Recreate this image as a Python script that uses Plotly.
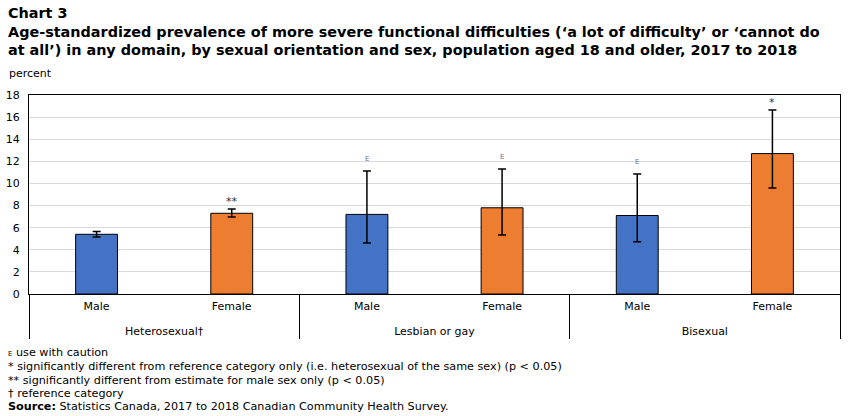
import plotly.graph_objects as go

orientations = ["Heterosexual†", "Heterosexual†", "Lesbian or gay", "Lesbian or gay", "Bisexual", "Bisexual"]
sexes = ["Male", "Female", "Male", "Female", "Male", "Female"]
values = [5.4, 7.3, 7.2, 7.8, 7.1, 12.7]
upper = [5.66, 7.68, 11.12, 11.3, 10.85, 16.64]
lower = [5.15, 6.96, 4.61, 5.33, 4.73, 9.58]
flags = ["", "**", "E", "E", "E", "*"]
colors = ["#4472C4", "#ED7D31", "#4472C4", "#ED7D31", "#4472C4", "#ED7D31"]
y_ticks = [0, 2, 4, 6, 8, 10, 12, 14, 16, 18]

FONT = "DejaVu Sans"
H, MT, MB = 416, 95, 122
PH = H - MT - MB


def py(pix):
    return (H - MB - pix) / PH


# a small spacer line under each sex label pushes the group row down
sex_labels = [s + "<br><span style='font-size:6px'> </span>" for s in sexes]

fig = go.Figure()
fig.add_trace(go.Bar(
    x=[orientations, sex_labels],
    y=values,
    marker=dict(color=colors, line=dict(color="black", width=1)),
    width=0.31,
    error_y=dict(
        type="data", symmetric=False,
        array=[u - v for u, v in zip(upper, values)],
        arrayminus=[v - l for v, l in zip(values, lower)],
        color="black", thickness=1.5, width=4,
    ),
    hoverinfo="skip",
))

annotations = []
for i, (f, u) in enumerate(zip(flags, upper)):
    if not f:
        continue
    if f == "E":
        annotations.append(dict(x=i, y=u, xref="x", yref="y", text=f, showarrow=False,
                                yshift=12, font=dict(family=FONT, size=7, color="#6b7390")))
    else:
        annotations.append(dict(x=i, y=u, xref="x", yref="y", text=f, showarrow=False,
                                yshift=8, font=dict(family=FONT, size=11, color="#333333")))

annotations.append(dict(x=0, y=1, xref="paper", yref="paper", xshift=-22, yshift=13, text="percent",
                        showarrow=False, xanchor="left", yanchor="bottom",
                        font=dict(family=FONT, size=11, color="black")))

title_lines = [
    "<b>Chart 3</b>",
    "<b>Age-standardized prevalence of more severe functional difficulties (‘a lot of difficulty’ or ‘cannot do</b>",
    "<b>at all’) in any domain, by sexual orientation and sex, population aged 18 and older, 2017 to 2018</b>",
]
title_y = [13, 32, 50]
for t, yy in zip(title_lines, title_y):
    annotations.append(dict(x=0, y=py(yy), xref="paper", yref="paper", xshift=-23, text=t,
                            showarrow=False, xanchor="left", yanchor="middle",
                            font=dict(family=FONT, size=14.4, color="black")))

notes = [
    "<span style='font-size:7px'>E</span> use with caution",
    "* significantly different from reference category only (i.e. heterosexual of the same sex) (p < 0.05)",
    "** significantly different from estimate for male sex only (p < 0.05)",
    "† reference category",
    "<b>Source:</b> Statistics Canada, 2017 to 2018 Canadian Community Health Survey.",
]
note_y = [352, 366, 380, 393, 406]
for t, yy in zip(notes, note_y):
    annotations.append(dict(x=0, y=py(yy), xref="paper", yref="paper", xshift=-23, text=t,
                            showarrow=False, xanchor="left", yanchor="middle",
                            font=dict(family=FONT, size=11.2, color="black")))

fig.update_layout(
    width=851, height=H,
    margin=dict(l=29, r=11, t=MT, b=MB),
    paper_bgcolor="white", plot_bgcolor="white",
    showlegend=False,
    annotations=annotations,
    xaxis=dict(
        type="multicategory", automargin=False,
        showline=True, linecolor="black", linewidth=1, mirror=True,
        showdividers=True, dividercolor="black", dividerwidth=1,
        tickfont=dict(family=FONT, size=11, color="black"),
        ticks="", ticklabelstandoff=2,
    ),
    yaxis=dict(
        range=[0, 18], tickvals=y_ticks, automargin=False,
        showgrid=True, gridcolor="#d9d9d9", gridwidth=1,
        showline=True, linecolor="black", linewidth=1, mirror=True,
        zeroline=False,
        tickfont=dict(family=FONT, size=11, color="black"),
        ticks="", ticklabelstandoff=6,
    ),
)

fig.write_html("out.html")
